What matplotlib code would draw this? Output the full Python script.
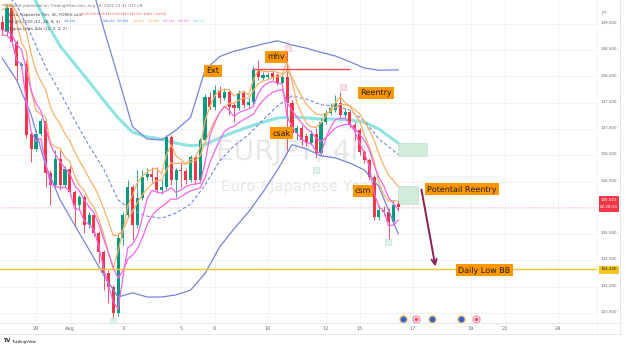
import numpy as np
import matplotlib.pyplot as plt
from matplotlib.patches import Rectangle
from matplotlib.transforms import blended_transform_factory

plt.rcParams["text.hinting"] = "no_hinting"
plt.rcParams["text.hinting_factor"] = 1

# EURJPY 4h candles, bar 0 = first bar of Jul 29
first_bar = -7
opens = [139.04, 138.85, 139.31, 138.66, 138.20, 138.24, 136.91,
         136.62, 136.91, 137.15, 136.16, 135.93, 136.43, 135.93, 136.24, 135.80, 135.55,
         135.71, 135.17, 135.36, 135.02, 134.66, 134.26, 133.99, 133.50, 134.92, 135.36,
         135.90, 135.17, 135.69, 136.09, 136.14, 136.09, 135.84, 135.90, 136.85, 136.03,
         136.22, 136.20, 136.03, 136.47, 136.03, 136.79, 137.61, 137.42, 137.74, 137.59,
         137.70, 137.46, 137.40, 137.69, 137.46, 137.51, 138.12, 137.97, 137.99, 138.07,
         138.03, 137.88, 137.99, 137.50, 136.92, 137.02, 136.87, 136.73, 136.91, 136.54,
         137.13, 137.31, 137.36, 137.50, 137.27, 137.32, 137.08, 136.98, 136.56, 136.41,
         136.09, 135.32, 135.46, 135.42, 135.23, 135.570]
highs = [139.17, 139.38, 139.38, 138.70, 138.28, 138.31, 136.94,
         136.98, 137.21, 137.19, 136.22, 136.60, 136.60, 136.30, 136.30, 135.84, 135.74,
         135.74, 135.42, 135.40, 135.06, 134.70, 134.31, 134.03, 135.02, 135.42, 136.03,
         135.93, 136.22, 136.22, 136.26, 136.28, 136.28, 136.03, 136.89, 136.89, 136.26,
         136.37, 136.26, 136.51, 136.51, 136.83, 137.67, 137.70, 137.84, 137.82, 137.78,
         137.74, 137.51, 137.74, 137.74, 137.59, 138.20, 138.31, 138.09, 138.07, 138.11,
         138.07, 138.05, 138.50, 137.55, 137.08, 137.08, 136.92, 136.98, 137.02, 137.21,
         137.36, 137.50, 137.65, 137.70, 137.40, 137.36, 137.13, 137.02, 136.60, 136.45,
         136.12, 135.55, 135.53, 135.50, 135.65, 135.632]
lows = [138.79, 138.77, 138.58, 137.93, 138.16, 136.83, 136.37,
        136.58, 136.87, 135.90, 135.55, 135.88, 135.84, 135.90, 135.74, 135.13, 135.46,
        135.02, 135.11, 134.96, 134.45, 133.93, 133.69, 133.40, 133.44, 134.79, 135.31,
        134.89, 135.11, 135.65, 136.03, 135.99, 135.78, 135.76, 135.86, 135.93, 135.71,
        135.90, 135.95, 135.99, 135.95, 135.99, 136.75, 137.36, 137.36, 137.50, 137.55,
        137.27, 137.13, 137.36, 137.40, 137.40, 137.48, 137.93, 137.93, 137.95, 137.93,
        137.84, 137.84, 136.60, 136.87, 136.79, 136.70, 136.68, 136.70, 136.45, 136.49,
        137.09, 137.27, 137.32, 137.21, 137.21, 137.02, 136.79, 136.50, 136.35, 136.03,
        135.27, 135.27, 135.36, 134.89, 135.17, 135.439]
closes = [138.89, 139.31, 138.66, 138.20, 138.24, 136.89, 136.62,
          136.91, 137.15, 136.16, 135.93, 136.43, 135.93, 136.24, 135.80, 135.55, 135.71,
          135.17, 135.36, 135.02, 134.66, 134.26, 133.99, 133.50, 134.92, 135.36, 135.90,
          135.17, 135.69, 136.09, 136.14, 136.09, 135.84, 135.90, 136.85, 136.03, 136.22,
          136.20, 136.03, 136.47, 136.03, 136.79, 137.61, 137.42, 137.74, 137.59, 137.70,
          137.42, 137.40, 137.69, 137.46, 137.51, 138.12, 137.99, 138.03, 138.03, 137.97,
          137.88, 137.99, 137.50, 136.92, 137.02, 136.79, 136.73, 136.91, 136.54, 137.13,
          137.31, 137.40, 137.50, 137.27, 137.32, 137.08, 136.98, 136.56, 136.41, 136.09,
          135.32, 135.46, 135.42, 135.23, 135.55, 135.523]

# channel lines, one value per bar
orange_fast = [139.27, 139.32, 139.35, 139.02, 138.65, 138.48, 137.71,
               137.35, 137.28, 137.23, 136.73, 136.66, 136.63, 136.46, 136.38, 136.11, 135.93,
               135.83, 135.63, 135.51, 135.29, 134.99, 134.65, 134.34, 134.68, 135.05, 135.54,
               135.74, 135.98, 136.10, 136.18, 136.23, 136.25, 136.14, 136.51, 136.70, 136.48,
               136.42, 136.34, 136.42, 136.46, 136.65, 137.16, 137.43, 137.63, 137.73, 137.75,
               137.75, 137.63, 137.69, 137.71, 137.65, 137.93, 138.12, 138.10, 138.09, 138.10,
               138.08, 138.05, 138.28, 137.92, 137.50, 137.29, 137.11, 137.04, 137.03, 137.12,
               137.24, 137.37, 137.51, 137.61, 137.50, 137.43, 137.28, 137.15, 136.88, 136.66,
               136.39, 135.97, 135.75, 135.62, 135.64, 135.621]
orange_slow = [139.36, 139.37, 139.37, 139.22, 139.01, 138.86, 138.43,
               138.11, 137.91, 137.75, 137.41, 137.23, 137.09, 136.91, 136.78, 136.57, 136.39,
               136.24, 136.06, 135.91, 135.72, 135.49, 135.23, 134.97, 134.98, 135.07, 135.29,
               135.43, 135.60, 135.74, 135.86, 135.95, 136.02, 136.02, 136.22, 136.36, 136.34,
               136.35, 136.33, 136.37, 136.40, 136.49, 136.75, 136.96, 137.16, 137.31, 137.41,
               137.49, 137.49, 137.55, 137.59, 137.59, 137.73, 137.86, 137.91, 137.94, 137.98,
               138.00, 138.01, 138.12, 137.99, 137.79, 137.63, 137.47, 137.37, 137.29, 137.27,
               137.29, 137.34, 137.41, 137.47, 137.46, 137.44, 137.37, 137.29, 137.14, 136.98,
               136.79, 136.52, 136.30, 136.12, 136.02, 135.901]
magenta_fast = [138.79, 138.78, 138.68, 138.31, 138.23, 137.53, 136.95,
                136.77, 136.82, 136.35, 135.95, 135.91, 135.88, 135.89, 135.82, 135.48, 135.47,
                135.25, 135.18, 135.08, 134.76, 134.35, 134.02, 133.71, 133.57, 134.18, 134.74,
                134.81, 134.96, 135.30, 135.67, 135.83, 135.80, 135.78, 135.82, 135.88, 135.79,
                135.84, 135.90, 135.94, 135.95, 135.97, 136.36, 136.87, 137.11, 137.31, 137.43,
                137.35, 137.24, 137.31, 137.35, 137.38, 137.43, 137.68, 137.81, 137.88, 137.91,
                137.87, 137.86, 137.23, 137.05, 136.92, 136.81, 136.74, 136.72, 136.58, 136.53,
                136.82, 137.04, 137.18, 137.20, 137.20, 137.11, 136.95, 136.73, 136.54, 136.29,
                135.78, 135.52, 135.44, 135.16, 135.17, 135.261]
magenta_slow = [138.89, 138.86, 138.80, 138.61, 138.51, 138.13, 137.74,
                137.49, 137.35, 137.03, 136.70, 136.52, 136.37, 136.26, 136.15, 135.92, 135.82,
                135.64, 135.52, 135.40, 135.19, 134.91, 134.64, 134.36, 134.16, 134.30, 134.52,
                134.60, 134.72, 134.92, 135.17, 135.35, 135.45, 135.52, 135.59, 135.67, 135.66,
                135.71, 135.77, 135.82, 135.85, 135.88, 136.07, 136.36, 136.58, 136.78, 136.95,
                137.02, 137.05, 137.12, 137.18, 137.23, 137.28, 137.43, 137.54, 137.63, 137.70,
                137.73, 137.75, 137.50, 137.36, 137.23, 137.11, 137.01, 136.94, 136.83, 136.76,
                136.83, 136.93, 137.02, 137.06, 137.09, 137.08, 137.01, 136.90, 136.78, 136.61,
                136.31, 136.08, 135.92, 135.69, 135.58, 135.457]

# bands and long average, read every third bar
sample_bars = [-7, -4, -1, 2, 5, 8, 11, 14, 17, 20, 23, 26, 29, 32, 35, 38, 41, 44,
               47, 50, 53, 56, 59, 62, 65, 68, 71, 75]
bb_upper = [140.90, 140.95, 140.95, 140.90, 140.80, 140.55, 139.93, 138.92, 137.99, 137.04,
            136.81, 136.79, 136.98, 137.22, 138.12, 138.38, 138.48, 138.55, 138.62, 138.68,
            138.60, 138.54, 138.46, 138.39, 138.28, 138.16, 138.12, 138.126]
bb_basis = [139.65, 139.36, 138.79, 138.18, 137.70, 137.17, 136.68, 136.24, 135.65, 135.44,
            135.34, 135.30, 135.40, 135.57, 135.93, 136.39, 136.68, 136.89, 137.17, 137.44,
            137.63, 137.57, 137.46, 137.44, 137.36, 137.15, 136.81, 136.514]
bb_lower = [138.35, 137.93, 137.27, 136.31, 135.65, 135.17, 134.70, 134.22, 133.80, 133.88,
            133.80, 133.80, 133.84, 133.93, 134.25, 134.75, 135.10, 135.42, 135.80, 136.22,
            136.70, 136.62, 136.49, 136.45, 136.35, 136.22, 135.90, 135.003]
cyan_ma = [140.89, 140.31, 139.61, 139.06, 138.58, 138.24, 137.90, 137.55, 137.21, 136.94,
           136.85, 136.81, 136.73, 136.68, 136.70, 136.83, 136.94, 137.04, 137.13, 137.21,
           137.23, 137.21, 137.19, 137.19, 137.17, 137.13, 137.00, 136.73]

date_ticks = [0, 7, 18, 30, 37, 48, 60, 67, 78, 90, 97, 108]
date_labels = ["29", "Aug", "3", "5", "8", "10", "12", "15", "17", "19", "22", "24"]
price_ticks = [133.5, 134.0, 134.5, 135.0, 135.5, 136.0, 136.5, 137.0, 137.5, 138.0, 138.5, 139.0]
last_price = 135.523
daily_low_bb = 134.33
mhv_level = 138.14

UP, DOWN = "#089981", "#f23645"
W, H = 625, 347
fig = plt.figure(figsize=(W / 100, H / 100), dpi=100)
ax = fig.add_axes([0, 1 - 323 / H, 597 / W, 323 / H])
ax.set_xlim(-7.45, 116.15)
ax.set_ylim(133.305, 139.457)
ax.axis("off")

for t in date_ticks:
    ax.axvline(t, color="#f0f3fa", lw=0.7, zorder=0)
for p in price_ticks:
    ax.axhline(p, color="#f0f3fa", lw=0.7, zorder=0)

# watermark
ax.text(0.49, 0.53, "EURJPY, 4h", transform=ax.transAxes, ha="center", va="center",
        fontsize=20, color="#e8e8eb", zorder=0)
ax.text(0.495, 0.418, "Euro / Japanese Yen", transform=ax.transAxes, ha="center", va="center",
        fontsize=10.5, color="#e8e8eb", zorder=0)

bars = np.arange(first_bar, first_bar + len(closes))
o, h, l, c = map(np.array, (opens, highs, lows, closes))
colors = np.where(c >= o, UP, DOWN)
ax.vlines(bars, l, h, colors=colors, lw=0.6, zorder=3)
ax.bar(bars, np.maximum(np.abs(c - o), 0.012), bottom=np.minimum(o, c), width=0.64,
       color=colors, zorder=3)

ax.plot(sample_bars, cyan_ma, color="#8fe3e1", lw=2.2, zorder=2)
ax.plot(sample_bars, bb_upper, color="#7485dc", lw=0.9, zorder=4)
ax.plot(sample_bars, bb_lower, color="#7485dc", lw=0.9, zorder=4)
ax.plot(sample_bars, bb_basis, color="#7485dc", lw=0.8, ls=(0, (3, 2)), zorder=4)
ax.plot(bars, orange_fast, color="#f9b266", lw=0.9, zorder=4)
ax.plot(bars, orange_slow, color="#f9b266", lw=0.9, zorder=4)
ax.plot(bars, magenta_fast, color="#f465e8", lw=0.9, zorder=4)
ax.plot(bars, magenta_slow, color="#f465e8", lw=0.9, zorder=4)

ax.axhline(daily_low_bb, color="#f7c51e", lw=1.0, zorder=5)
ax.axhline(last_price, color="#f6a5ad", lw=0.6, ls=(0, (1, 2)), zorder=1)
ax.hlines(mhv_level, 44.7, 65, color="#f04a55", lw=1.0, zorder=5)

ax.add_patch(Rectangle((75, 136.49), 6.0, 0.24, fc="#d3ebda", ec="#c0e0c9", lw=0.5, zorder=2))
ax.add_patch(Rectangle((75, 135.57), 4.1, 0.34, fc="#d3ebda", ec="#c0e0c9", lw=0.5, zorder=2))
ax.annotate("", xy=(82.8, 134.33), xytext=(79.7, 135.90),
            arrowprops=dict(arrowstyle="->", color="#8a1f56", lw=1.4, mutation_scale=9),
            zorder=6)

# fractal markers
ax.scatter([52.2, 63.6], [138.54, 137.80], marker="s", s=14, fc="#fde4ea", ec="#f6b3c2",
           lw=0.4, zorder=6)
ax.scatter([58, 72.9, 15.9], [136.22, 134.85, 133.34], marker="s", s=14, fc="#e0f3ea",
           ec="#b7dfcb", lw=0.4, zorder=6)

# event icons
ax.scatter([76, 82, 88], [133.38] * 3, s=26, fc="#2f62d6", ec="#ffba5a", lw=0.9, zorder=6)
ax.scatter([78.7, 91.1], [133.38] * 2, s=26, fc="white", ec="#f58fa3", lw=0.9, zorder=6)
ax.scatter([78.7, 91.1], [133.38] * 2, s=3, fc="#f0506e", zorder=7)

notes = [("Ext", 36.6, 138.105), ("mhv", 49.7, 138.37), ("Reentry", 70.4, 137.69),
         ("csak", 50.9, 136.92), ("csm", 67.7, 135.82), ("Potentail Reentry", 88.2, 135.86),
         ("Daily Low BB", 92.8, 134.31)]
for txt, x, y in notes:
    ax.text(x, y, txt, ha="center", va="center", fontsize=5.5, color="#131722", zorder=8,
            bbox=dict(boxstyle="square,pad=0.3", fc="#ff9800", ec="none"))

# price scale (135.500 sits under the last-price tag)
ty = blended_transform_factory(fig.transFigure, ax.transData)
for p in price_ticks:
    if p != 135.5:
        fig.text(601 / W, p, f"{p:.3f}", transform=ty, fontsize=3.0, color="#6a6d78",
                 va="center")
fig.text(601 / W, 1 - 13 / H, "JPY", fontsize=3.0, color="#6a6d78", va="center")
fig.patches.append(Rectangle((599 / W, 1 - 212 / H), 20 / W, 16 / H, transform=fig.transFigure,
                             fc="#f23645", ec="none"))
fig.text(609 / W, 1 - 200.5 / H, "135.523", fontsize=3.0, color="white", ha="center",
         va="center")
fig.text(609 / W, 1 - 207.5 / H, "02:28:33", fontsize=2.6, color="white", ha="center",
         va="center")
fig.patches.append(Rectangle((599 / W, 1 - 274 / H), 20 / W, 8 / H, transform=fig.transFigure,
                             fc="#f7c51e", ec="none"))
fig.text(609 / W, 1 - 270 / H, "134.330", fontsize=3.0, color="#131722", ha="center",
         va="center")

# time scale
tx = blended_transform_factory(ax.transData, fig.transFigure)
for t, lab in zip(date_ticks, date_labels):
    fig.text(t, 1 - 329 / H, lab, transform=tx, fontsize=3.3, color="#6a6d78",
             ha="center", va="center")
for yy in (323, 334):
    fig.add_artist(plt.Line2D([0, 620 / W], [1 - yy / H] * 2, color="#e0e3eb", lw=0.6))
fig.add_artist(plt.Line2D([620 / W] * 2, [1 - 334 / H, 1], color="#e0e3eb", lw=0.6))
fig.add_artist(plt.Line2D([597 / W] * 2, [1 - 334 / H, 1], color="#f0f3fa", lw=0.6))

# header and legend
fig.text(4 / W, 1 - 5 / H, "Qnnpads published on TradingView.com, Aug 16, 2022 14:31 UTC+8",
         fontsize=2.9, color="#787b86", va="center")
legend_rows = [
    (14, [(9, "Euro / Japanese Yen, 4h, FOREX.com", "#434651", 2.7),
          (81, "O135.570 H135.632 L135.439 C135.523 -0.047 (-0.03%)", "#f23645", 2.1)]),
    (21, [(9, "Bright 2020 (12, 26, 9, 3)", "#434651", 2.6), (64, "136.514", "#2962ff", 2.3),
          (103, "138.126", "#2962ff", 2.3), (117, "135.003", "#2962ff", 2.3),
          (133, "135.621", "#f7a23c", 2.3), (148, "135.901", "#f7a23c", 2.3),
          (163, "135.261", "#f050e0", 2.3), (178, "135.457", "#f050e0", 2.3),
          (193, "136.733", "#5fd3d0", 2.3)]),
    (28, [(9, "Sigma Lines Adv (12, 3, 3, 2)", "#434651", 2.7)]),
]
for yy, parts in legend_rows:
    for xx, txt, col, fs in parts:
        fig.text(xx / W, 1 - yy / H, txt, fontsize=fs, color=col, va="center")

fig.text(4 / W, 1 - 341 / H, "TV", fontsize=3.5, weight="bold", color="#131722", va="center")
fig.text(11 / W, 1 - 341 / H, "TradingView", fontsize=3.2, color="#131722", va="center")

fig.savefig("out.png", dpi=100, facecolor="white")
